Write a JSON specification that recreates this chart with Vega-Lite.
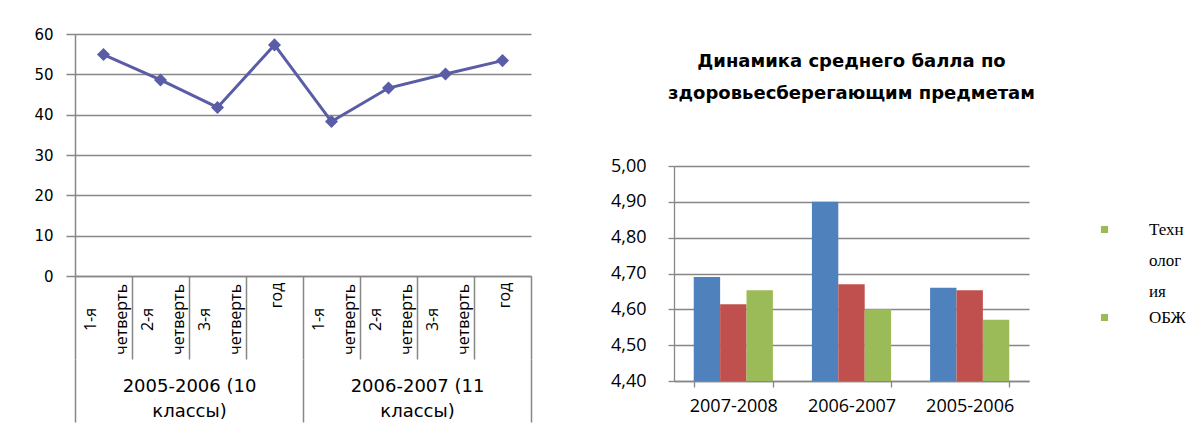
{
  "$schema": "https://vega.github.io/schema/vega-lite/v6.json",
  "background": "white",
  "padding": {"left": 33, "top": 27, "right": 0, "bottom": 0},
  "datasets": {
    "quarters": [
      {"key": "2005-2006|1-я четверть", "group": "2005-2006 (10 классы)", "value": 54.9},
      {"key": "2005-2006|2-я четверть", "group": "2005-2006 (10 классы)", "value": 48.6},
      {"key": "2005-2006|3-я четверть", "group": "2005-2006 (10 классы)", "value": 41.8},
      {"key": "2005-2006|год", "group": "2005-2006 (10 классы)", "value": 57.3},
      {"key": "2006-2007|1-я четверть", "group": "2006-2007 (11 классы)", "value": 38.3},
      {"key": "2006-2007|2-я четверть", "group": "2006-2007 (11 классы)", "value": 46.6},
      {"key": "2006-2007|3-я четверть", "group": "2006-2007 (11 классы)", "value": 50.1},
      {"key": "2006-2007|год", "group": "2006-2007 (11 классы)", "value": 53.4}
    ],
    "titleLines": [
      {"line": 1, "text": "Динамика среднего балла по"},
      {"line": 2, "text": "здоровьесберегающим предметам"}
    ],
    "scores": [
      {"year": "2007-2008", "subject": "Физкультура", "series": "Физкультура", "score": 4.69},
      {"year": "2007-2008", "subject": "Технология", "series": "Технология", "score": 4.614},
      {"year": "2007-2008", "subject": "ОБЖ", "series": "ОБЖ", "score": 4.653},
      {"year": "2006-2007", "subject": "Физкультура", "series": "Физкультура", "score": 4.90},
      {"year": "2006-2007", "subject": "Технология", "series": "Технология", "score": 4.67},
      {"year": "2006-2007", "subject": "ОБЖ", "series": "ОБЖ", "score": 4.60},
      {"year": "2005-2006", "subject": "Физкультура", "series": "Физкультура", "score": 4.66},
      {"year": "2005-2006", "subject": "Технология", "series": "Технология", "score": 4.653},
      {"year": "2005-2006", "subject": "ОБЖ", "series": "ОБЖ", "score": 4.571}
    ]
  },
  "spacing": 78,
  "hconcat": [
    {
      "width": 456,
      "height": 242,
      "data": {"name": "quarters"},
      "layer": [
        {
          "mark": {
            "type": "line", "color": "#5A5CA5", "strokeWidth": 3,
            "point": {"shape": "diamond", "size": 170, "filled": true, "color": "#5A5CA5", "opacity": 1}
          },
          "encoding": {
            "x": {
              "field": "key", "type": "ordinal", "sort": null,
              "scale": {"type": "band", "paddingInner": 0, "paddingOuter": 0},
              "axis": {
                "title": null,
                "labelAngle": 270,
                "labelAlign": "center",
                "labelBaseline": "middle",
                "labelPadding": -40,
                "labelOffset": -13.5,
                "labelLineHeight": 15.5,
                "labelFont": "Open Sans",
                "labelFontSize": 16,
                "labelColor": "#000",
                "labelOverlap": false,
                "labelExpr": "isString(datum.label) && indexof(datum.label, '|') >= 0 ? (indexof(datum.label, 'год') >= 0 ? ['\u200b', '\u2800\u2800\u2800\u2800год'] : [split(split(datum.label, '|')[1], ' ')[0], '\u200b', split(split(datum.label, '|')[1], ' ')[1]]) : ''",
                "tickBand": "extent",
                "tickSize": 83,
                "tickWidth": 1.5,
                "tickColor": "#878787",
                "domainColor": "#878787",
                "domainWidth": 1.5,
                "grid": false
              }
            },
            "y": {
              "field": "value", "type": "quantitative",
              "scale": {"domain": [0, 60], "nice": false},
              "axis": {
                "title": null,
                "values": [0, 10, 20, 30, 40, 50, 60],
                "tickSize": 9,
                "labelPadding": 13,
                "labelFont": "DejaVu Sans",
                "labelFontSize": 15,
                "labelColor": "#000",
                "gridColor": "#878787",
                "gridWidth": 1.5,
                "tickColor": "#878787",
                "tickWidth": 1.5,
                "domainColor": "#878787",
                "domainWidth": 1.5
              }
            }
          }
        },
        {
          "mark": {"type": "point", "opacity": 0},
          "encoding": {
            "x": {
              "field": "group", "type": "nominal", "sort": null,
              "scale": {"type": "band", "paddingInner": 0, "paddingOuter": 0},
              "axis": {
                "orient": "bottom",
                "offset": 83,
                "title": null,
                "domain": false,
                "grid": false,
                "tickBand": "extent",
                "tickSize": 63,
                "tickWidth": 1.5,
                "tickColor": "#878787",
                "labelAngle": 0,
                "labelAlign": "center",
                "labelBaseline": "top",
                "labelPadding": -45,
                "labelLineHeight": 25,
                "labelFont": "DejaVu Sans",
                "labelFontSize": 18,
                "labelColor": "#000",
                "labelExpr": "isString(datum.label) && indexof(datum.label, ' классы)') >= 0 ? split(replace(datum.label, ' классы)', '|классы)'), '|') : ''"
              }
            },
            "y": {"field": "value", "type": "quantitative"}
          }
        }
      ],
      "resolve": {"scale": {"x": "independent"}, "axis": {"x": "independent"}}
    },
    {
      "spacing": 35,
      "vconcat": [
        {
          "width": 355,
          "height": 88,
          "data": {"name": "titleLines"},
          "mark": {"type": "text", "font": "DejaVu Sans", "fontWeight": "bold", "fontSize": 18, "color": "#000"},
          "encoding": {
            "y": {"field": "line", "type": "ordinal", "scale": {"type": "point", "padding": 0.875}, "axis": null},
            "text": {"field": "text"}
          }
        },
        {
          "width": 355,
          "height": 215,
          "data": {"name": "scores"},
          "encoding": {
            "x": {
              "field": "year", "type": "nominal", "sort": null,
              "scale": {"paddingInner": 0.33, "paddingOuter": 0.167},
              "axis": {
                "title": null,
                "labelAngle": 0,
                "tickBand": "extent",
                "tickSize": 6,
                "tickColor": "#868686",
                "tickWidth": 1.3,
                "domainColor": "#868686",
                "domainWidth": 1.3,
                "labelPadding": 10,
                "labelFont": "Open Sans",
                "labelFontSize": 18,
                "labelColor": "#000"
              }
            },
            "y": {
              "field": "score", "type": "quantitative",
              "scale": {"domain": [4.4, 5.0], "zero": false, "nice": false, "clamp": true},
              "axis": {
                "title": null,
                "values": [4.4, 4.5, 4.6, 4.7, 4.8, 4.9, 5.0],
                "labelExpr": "replace(format(datum.value, '.2f'), '.', ',')",
                "tickSize": 6,
                "labelPadding": 22,
                "labelFont": "Open Sans",
                "labelFontSize": 18,
                "labelColor": "#000",
                "gridColor": "#868686",
                "gridWidth": 1.3,
                "tickColor": "#868686",
                "tickWidth": 1.3,
                "domainColor": "#868686",
                "domainWidth": 1.3
              }
            }
          },
          "layer": [
            {
              "mark": {"type": "bar"},
              "encoding": {
                "xOffset": {"field": "subject", "sort": ["Физкультура", "Технология", "ОБЖ"]},
                "color": {
                  "field": "subject", "type": "nominal",
                  "scale": {"domain": ["Физкультура", "Технология", "ОБЖ"], "range": ["#4F81BD", "#C0504D", "#9BBB59"]},
                  "legend": null
                }
              }
            },
            {
              "mark": {"type": "point", "filled": true, "color": "#9BBB59", "opacity": 0},
              "encoding": {
                "shape": {
                  "field": "series", "type": "nominal",
                  "scale": {"domain": ["Физкультура", "Технология", "ОБЖ"], "range": ["square", "square", "square"]},
                  "legend": {
                    "orient": "none",
                    "legendX": 422,
                    "legendY": 55,
                    "title": null,
                    "values": ["Технология", "ОБЖ"],
                    "symbolType": "square",
                    "symbolSize": 50,
                    "symbolOpacity": 1,
                    "symbolFillColor": "#9BBB59",
                    "symbolStrokeWidth": 0,
                    "labelFont": "Liberation Serif",
                    "labelFontSize": 17,
                    "labelColor": "#000",
                    "labelOffset": 36,
                    "labelBaseline": "middle",
                    "rowPadding": 8,
                    "labelExpr": "datum.label == 'Технология' ? ['Техн', 'олог', 'ия'] : datum.label",
                    "encode": {
                      "symbols": {"update": {"fill": {"value": "#9BBB59"}, "opacity": {"value": 1}}},
                      "labels": {"update": {"lineHeight": {"value": 31}}}
                    }
                  }
                }
              }
            }
          ],
          "resolve": {"legend": {"shape": "independent"}}
        }
      ]
    }
  ],
  "config": {
    "view": {"stroke": null},
    "style": {"guide-label": {"lineHeight": 31}}
  }
}
